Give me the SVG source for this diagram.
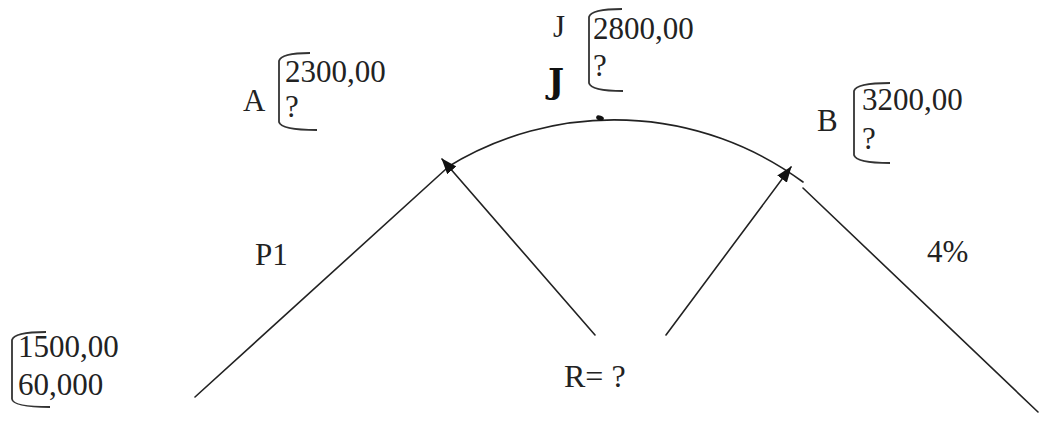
<svg xmlns="http://www.w3.org/2000/svg" width="1047" height="423" viewBox="0 0 1047 423">
  <defs>
    <style>
      .t { font-family: "Liberation Serif", "Times New Roman", serif; font-size: 31px; fill: #222; }
      .hand { font-family: "DejaVu Serif", "Liberation Serif", serif; font-size: 34px; font-weight: bold; fill: #111; }
      .ln { fill: none; stroke: #222; stroke-width: 1.6; stroke-linecap: round; }
      .br { fill: none; stroke: #333; stroke-width: 1.8; }
    </style>
    <marker id="ah2" viewBox="0 0 16 12" refX="15" refY="6" markerWidth="16" markerHeight="12" markerUnits="userSpaceOnUse" orient="auto">
      <path d="M0,0 L16,6 L0,12 Z" fill="#111"/>
    </marker>
  </defs>
  <rect width="1047" height="423" fill="#fff"/>

  <g id="connectors">
    <line class="ln" x1="195" y1="397" x2="446" y2="169"/>
    <path class="ln" d="M446,168 A318,318 0 0 1 803,182"/>
    <line class="ln" x1="803" y1="188" x2="1038" y2="412"/>
    <line class="ln" x1="595" y1="335" x2="442" y2="159" marker-end="url(#ah2)"/>
    <line class="ln" x1="666" y1="335" x2="791" y2="167" marker-end="url(#ah2)"/>
    <ellipse cx="600" cy="118" rx="4" ry="2.5" transform="rotate(20 600 118)" fill="#111"/>
  </g>

  <g id="start">
    <path class="br" d="M46,332 Q14,332 12,340 L12,399 Q13,407 50,407"/>
    <text class="t" x="18" y="357">1500,00</text>
    <text class="t" x="18" y="395">60,000</text>
  </g>

  <g id="A">
    <text class="t" x="243" y="111">A</text>
    <path class="br" d="M310,53 Q281,53 279,61 L279,122 Q281,130 317,130"/>
    <text class="t" x="285" y="82">2300,00</text>
    <text class="t" x="285" y="117">?</text>
  </g>

  <g id="J">
    <text class="t" x="553" y="37">J</text>
    <text class="hand" x="548" y="93">J</text>
    <path class="br" d="M622,9 Q591,9 589,17 L589,83 Q591,91 623,91"/>
    <text class="t" x="593" y="39">2800,00</text>
    <text class="t" x="593" y="76">?</text>
  </g>

  <g id="B">
    <text class="t" x="817" y="131">B</text>
    <path class="br" d="M890,83 Q856,83 854,91 L854,155 Q856,163 890,163"/>
    <text class="t" x="862" y="110">3200,00</text>
    <text class="t" x="862" y="149">?</text>
  </g>

  <g id="P1">
    <text class="t" x="255" y="265">P1</text>
  </g>

  <g id="grade">
    <text class="t" x="927" y="262">4%</text>
  </g>

  <g id="R">
    <text class="t" x="564" y="387" style="font-size:32px">R= ?</text>
  </g>
</svg>
